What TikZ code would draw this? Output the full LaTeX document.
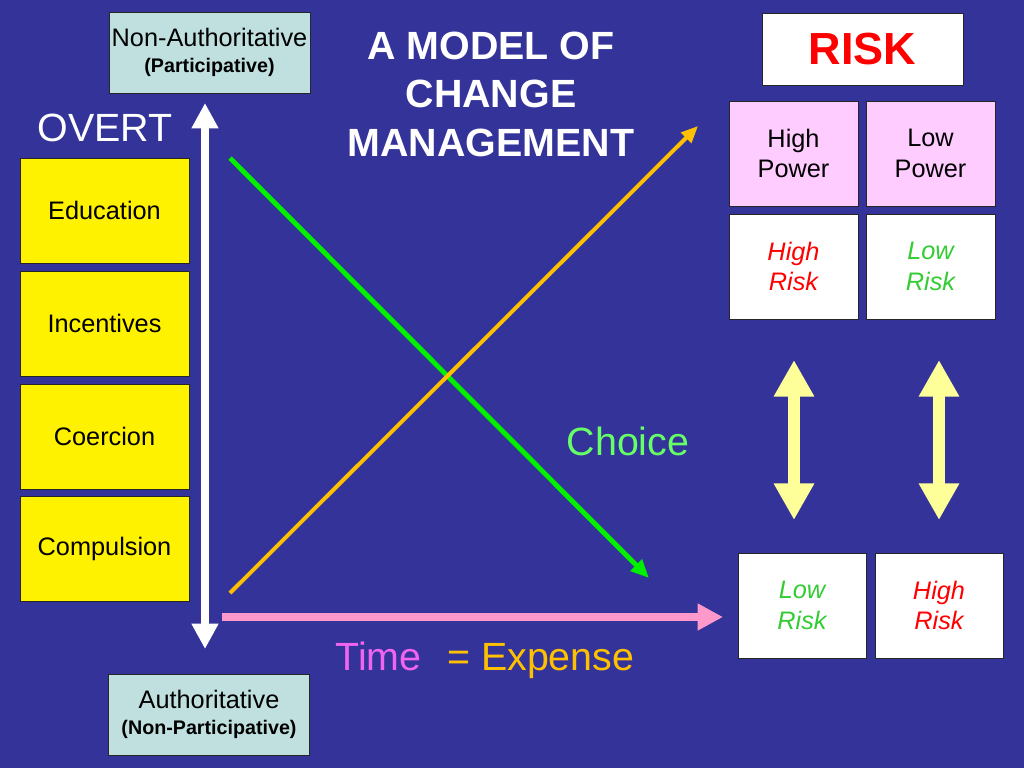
\documentclass[tikz,border=0pt]{standalone}
\usepackage{fontspec}
\setmainfont{Liberation Sans}
\usepackage{tikz}
\usetikzlibrary{arrows.meta,positioning}
\definecolor{slideblue}{RGB}{51,51,153}
\definecolor{paleteal}{RGB}{192,224,224}
\definecolor{palepink}{RGB}{255,204,255}
\definecolor{paleyellow}{RGB}{255,255,153}
\definecolor{linegreen}{RGB}{0,240,0}
\definecolor{linegold}{RGB}{255,192,0}
\definecolor{timepink}{RGB}{255,153,204}
\definecolor{timeviolet}{RGB}{240,100,240}
\definecolor{choicegreen}{RGB}{102,255,102}
\definecolor{riskgreen}{RGB}{51,204,51}

\begin{document}
\begin{tikzpicture}[x=0.025cm,y=-0.025cm,
  box/.style={draw=black!85, line width=0.6pt, inner sep=0pt, align=center},
  stylebox/.style={box, fill=paleteal, minimum width=5.025cm, minimum height=2.025cm},
  methodbox/.style={box, fill=yellow, minimum width=4.225cm, minimum height=2.625cm, font=\fontsize{18}{21.5}\selectfont},
  powerbox/.style={box, fill=palepink, minimum width=3.225cm, minimum height=2.625cm, font=\fontsize{18}{21.5}\selectfont},
  riskbox/.style={box, fill=white, minimum width=3.225cm, minimum height=2.625cm, font=\fontsize{18}{21.5}\selectfont\itshape}]
\useasboundingbox (0,0) rectangle (1024,768);
\fill[slideblue] (0,0) rectangle (1024,768);

% style of management
\node[stylebox] (nonauth) at (209.5,52.5) {\fontsize{18}{20}\selectfont Non-Authoritative\\[7pt]\fontsize{14}{16}\selectfont\bfseries (Participative)};
\node[stylebox] (auth) at (209,714.5) {\fontsize{18}{20}\selectfont Authoritative\\[7pt]\fontsize{14}{16}\selectfont\bfseries (Non-Participative)};
\node[text=white, font=\fontsize{28}{32}\selectfont] (overt) at (105,128) {OVERT};

% methods
\node[methodbox] (educ) at (104.5,210.5) {Education};
\node[methodbox] (incent) at (104.5,323.5) {Incentives};
\node[methodbox] (coerc) at (104.5,436.5) {Coercion};
\node[methodbox] (compul) at (104.5,549) {Compulsion};

% title
\node[text=white, align=center, font=\fontsize{28}{34.5}\selectfont\bfseries] (title) at (491,94) {A MODEL OF\\CHANGE\\MANAGEMENT};

% axes
\coordinate (vtop) at (205,103);
\coordinate (vbot) at (205,649);
\draw[white, line width=5.7pt, {Triangle[length=18pt,width=18pt]}-{Triangle[length=18pt,width=18pt]}] (vbot) -- (vtop);
\coordinate (tstart) at (222,617);
\coordinate (tend) at (723,617);
\draw[timepink, line width=5.7pt, -{Triangle[length=18pt,width=18pt]}] (tstart) -- (tend);

% choice and expense lines
\coordinate (cstart) at (230,158);
\coordinate (cend) at (649,578);
\draw[linegreen, line width=3.5pt, -{Triangle[length=13pt,width=11pt]}] (cstart) -- (cend);
\coordinate (estart) at (230,593);
\coordinate (eend) at (698,126);
\draw[linegold, line width=2.8pt, -{Triangle[length=12pt,width=10pt]}] (estart) -- (eend);

\node[text=choicegreen, font=\fontsize{28}{32}\selectfont] (choice) at (628,441) {Choice};
\node[font=\fontsize{28}{32}\selectfont] (timexp) at (485,660) {\textcolor{timeviolet}{Time}\hspace{0.65em}\textcolor{linegold}{= Expense}};

% risk table
\node[box, fill=white, minimum width=5.025cm, minimum height=1.8cm, text=red, font=\fontsize{32}{36}\selectfont\bfseries] (risk) at (862.5,49) {RISK};
\node[powerbox] (hipow) at (793.5,153.5) {High\\Power};
\node[powerbox] (lopow) at (930.5,153.5) {Low\\Power};
\node[riskbox, text=red] (hirisk) at (793.5,266.5) {High\\Risk};
\node[riskbox, text=riskgreen] (lorisk) at (930.5,266.5) {Low\\Risk};
\node[riskbox, text=riskgreen, minimum width=3.2cm] (lorisktwo) at (802,605.5) {Low\\Risk};
\node[riskbox, text=red, minimum width=3.2cm] (hirisktwo) at (939,605.5) {High\\Risk};

% swaps
\coordinate (swapatop) at (794,360);
\coordinate (swapabot) at (794,520);
\coordinate (swapbtop) at (939,360);
\coordinate (swapbbot) at (939,520);
\foreach \t/\b in {swapatop/swapabot, swapbtop/swapbbot}
  \draw[paleyellow, line width=8.5pt, {Triangle[length=26pt,width=27pt]}-{Triangle[length=26pt,width=27pt]}] (\t) -- (\b);
\end{tikzpicture}
\end{document}
